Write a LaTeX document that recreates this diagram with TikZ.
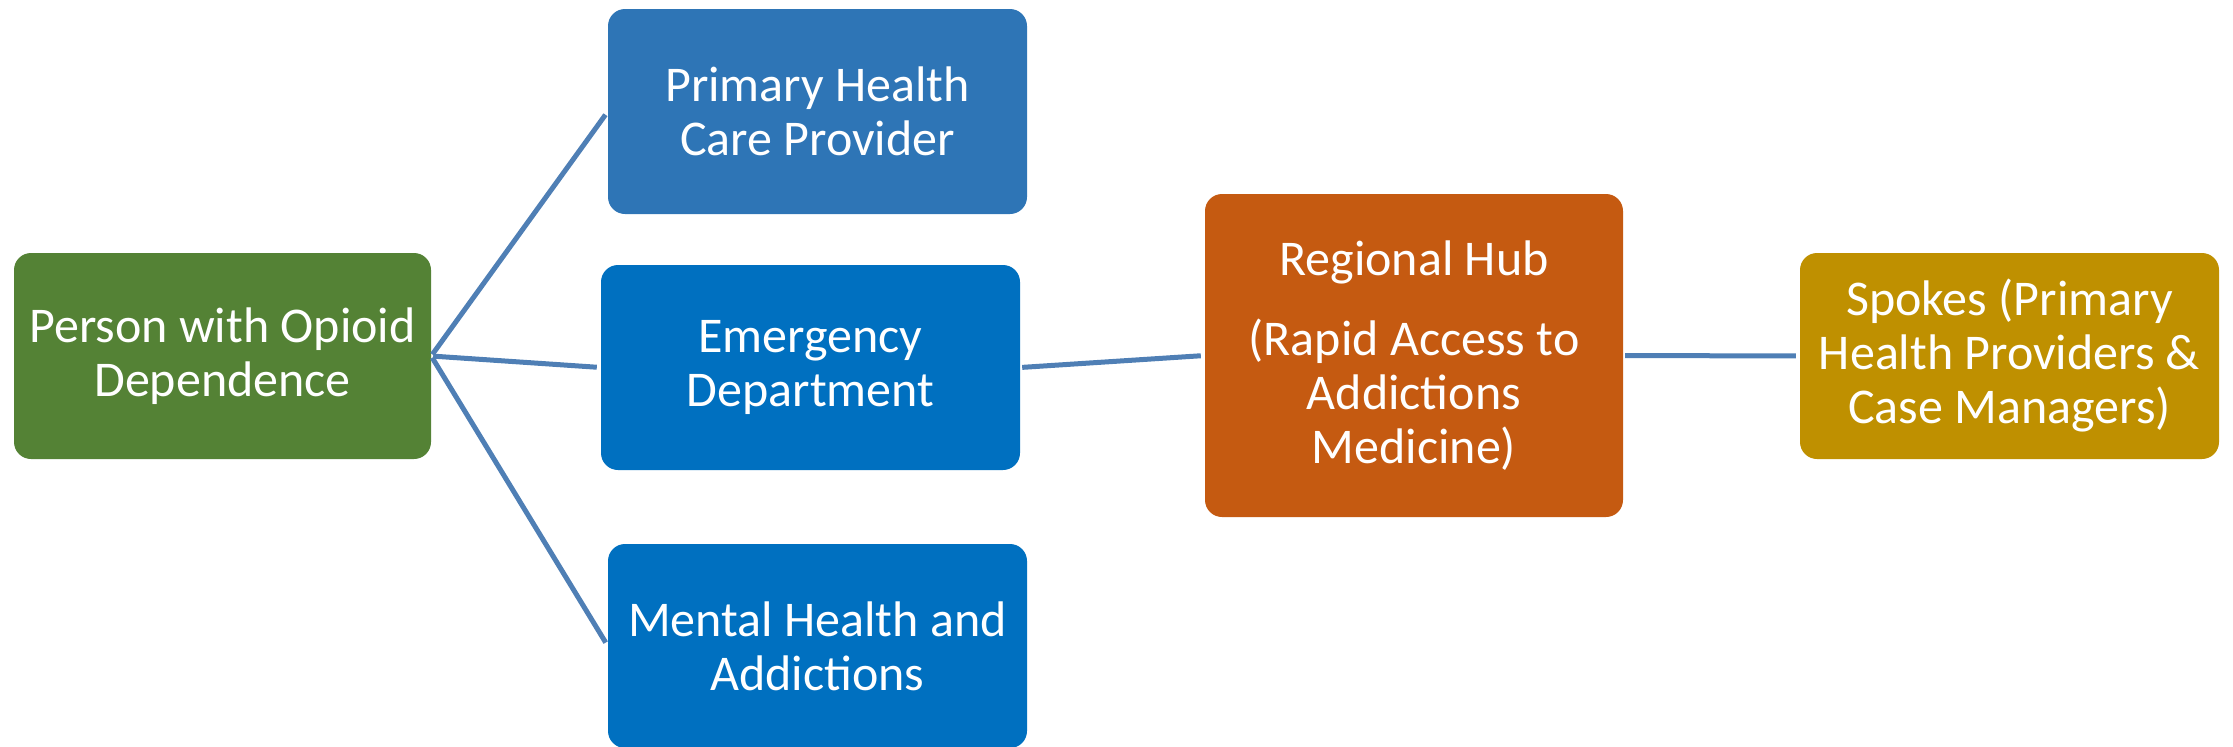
\documentclass[tikz,border=0pt]{standalone}
\usepackage{fontspec}
\setmainfont{Carlito}
\definecolor{cgreen}{HTML}{548235}
\definecolor{cblueA}{HTML}{2E75B6}
\definecolor{cblueB}{HTML}{0070C0}
\definecolor{corange}{HTML}{C55A11}
\definecolor{cgold}{HTML}{BF9000}
\definecolor{cline}{HTML}{4F7FB5}
\tikzset{
  box/.style={rectangle, rounded corners=17pt, draw=none, text=white,
    align=center, inner sep=0pt, minimum width=419pt,
    font=\fontsize{50}{54}\selectfont},
  conn/.style={draw=cline, line width=5pt, shorten <=2pt, shorten >=4pt}
}
\begin{document}
\begin{tikzpicture}[x=1pt,y=-1pt]
\useasboundingbox (0,0) rectangle (2233,747);
\node[box, fill=cgreen, minimum width=417pt, minimum height=206pt] (person) at (222.5,356) {Person with Opioid\\Dependence};
\node[box, fill=cblueA, minimum height=205pt] (phcp) at (817.5,111.5) {Primary Health\\Care Provider};
\node[box, fill=cblueB, minimum height=205pt] (ed) at (810.5,367.5) {Emergency\\Department};
\node[box, fill=cblueB, minimum height=204pt] (mha) at (817.5,646) {Mental Health and\\Addictions};
\node[box, fill=corange, minimum width=418pt, minimum height=323pt] (hub) at (1414,355.5) {Regional Hub\\[26pt](Rapid Access to\\Addictions\\Medicine)};
\node[box, fill=cgold, minimum height=206pt] (spokes) at (2009.5,356) {Spokes (Primary\\Health Providers \&\\Case Managers)};
\draw[conn] (person.east) -- (phcp.west);
\draw[conn] (person.east) -- (ed.west);
\draw[conn] (person.east) -- (mha.west);
\draw[conn] (ed.east) -- (hub.west);
\draw[conn] (hub.east) -- (spokes.west);
\end{tikzpicture}
\end{document}
